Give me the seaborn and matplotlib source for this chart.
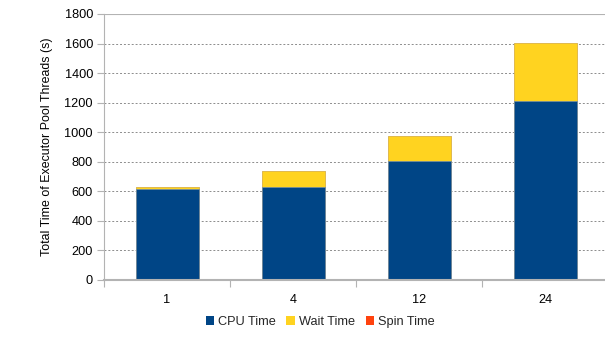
import matplotlib
matplotlib.use("Agg")
import matplotlib.pyplot as plt
import seaborn as sns
import pandas as pd
from matplotlib.patches import Patch

threads = ["1", "4", "12", "24"]
cpu_time = [615, 632, 803, 1208]
wait_time = [12, 103, 170, 395]
spin_time = [2, 1, 1, 1]

colors = {"CPU Time": "#004586", "Wait Time": "#ffd320", "Spin Time": "#ff420e"}

sns.set_theme(style="white")
plt.rcParams['font.family'] = ['Liberation Sans', 'DejaVu Sans']

fig = plt.figure(figsize=(6.05, 3.4), dpi=100)
ax = fig.add_axes([104 / 605, 1 - 280 / 340, (608 - 104) / 605, (280 - 14) / 340])

df = pd.DataFrame({"threads": threads, "cpu": cpu_time, "wait": wait_time, "spin": spin_time})
df["cpu_wait"] = df["cpu"] + df["wait"]
df["total"] = df["cpu_wait"] + df["spin"]

fs = 9.2
sns.barplot(data=df, x="threads", y="total", color=colors["Spin Time"], width=0.5, ax=ax,
            saturation=1, edgecolor="#6f8fbf", linewidth=0.4, zorder=3)
sns.barplot(data=df, x="threads", y="cpu_wait", color=colors["Wait Time"], width=0.5, ax=ax,
            saturation=1, edgecolor="#e8c040", linewidth=0.4, zorder=3)
sns.barplot(data=df, x="threads", y="cpu", color=colors["CPU Time"], width=0.5, ax=ax,
            saturation=1, edgecolor="#6f8fbf", linewidth=0.4, zorder=3)

ax.set_xlim(-0.5, 3.5)
ax.set_ylim(0, 1800)
ax.set_yticks(range(0, 1801, 200))
ax.yaxis.grid(True, linestyle=(0, (2, 2)), color="#8c8c8c", linewidth=0.7, zorder=0)
ax.set_axisbelow(True)

for s in ["top", "right"]:
    ax.spines[s].set_visible(False)
ax.spines["left"].set_color("#b3b3b3")
ax.spines["left"].set_linewidth(0.8)
ax.spines["bottom"].set_color("#b3b3b3")
ax.spines["bottom"].set_linewidth(1.5)
ax.spines["bottom"].set_zorder(4)
ax.axhline(1800, color="#b3b3b3", linewidth=0.8, zorder=1)

ax.tick_params(axis="y", which="major", left=True, length=5, width=0.8, color="#b3b3b3",
               labelsize=fs, labelcolor="#000000", pad=3)
ax.tick_params(axis="x", which="major", bottom=False, labelsize=fs, labelcolor="#000000", pad=4)
ax.set_xticks([-0.5, 0.5, 1.5, 2.5, 3.5], minor=True)
ax.tick_params(axis="x", which="minor", bottom=True, length=5, width=0.8, color="#b3b3b3")

ax.set_xlabel("")
ax.set_ylabel("Total Time of Executor Pool Threads (s)", fontsize=8.9, color="#000000", labelpad=8)

handles = [Patch(facecolor=c, edgecolor="none", label=l) for l, c in colors.items()]
fig.legend(handles=handles, loc="center", bbox_to_anchor=(320 / 605, 1 - 322 / 340), ncol=3,
           frameon=False, fontsize=fs, handlelength=0.65, handleheight=0.65, handletextpad=0.3,
           columnspacing=0.85)

fig.savefig("out.png", dpi=100)
